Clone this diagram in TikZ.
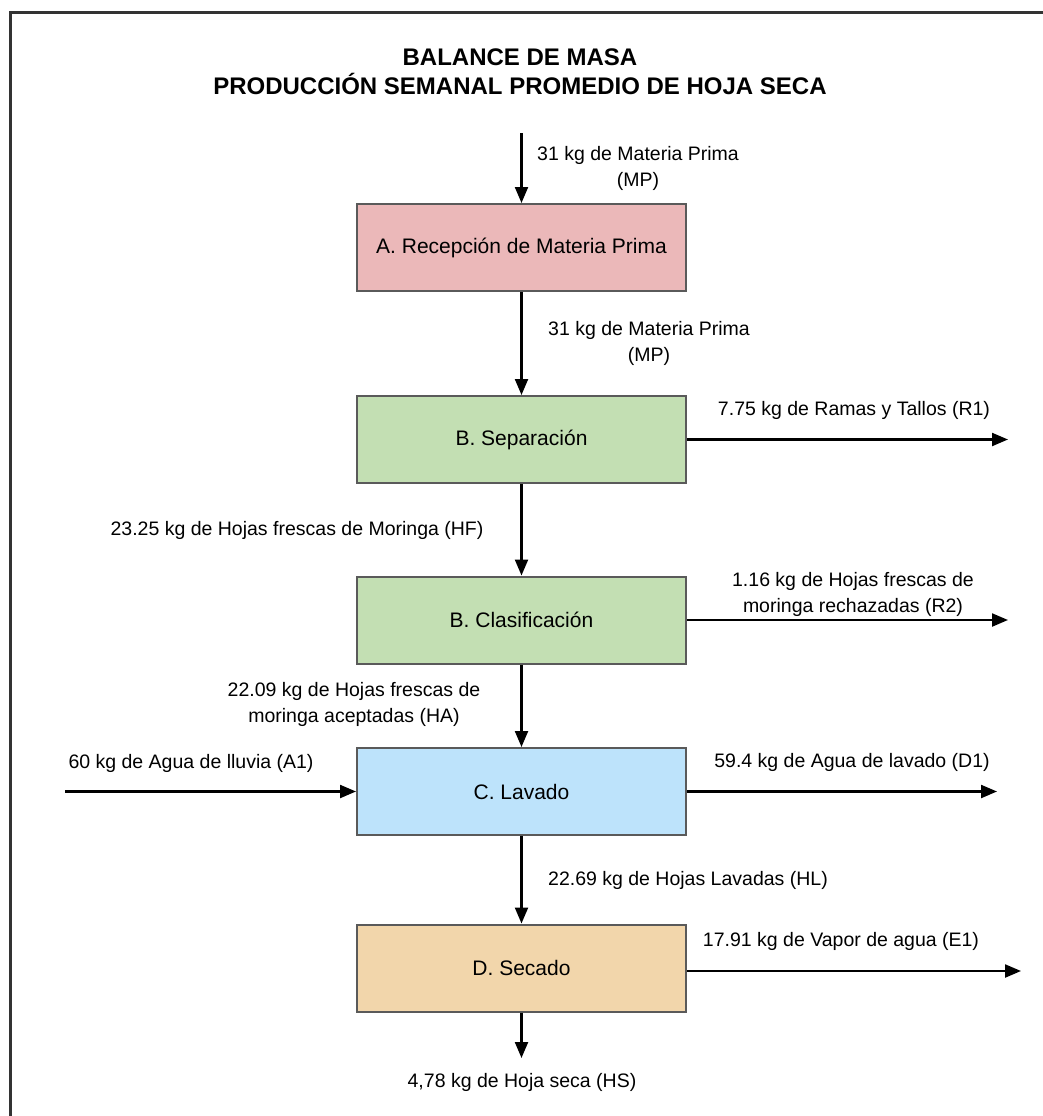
\documentclass[tikz,border=0pt]{standalone}
\usepackage{fontspec}
\setmainfont{Liberation Sans}
\usetikzlibrary{arrows.meta}
\definecolor{cA}{HTML}{EBB8B9}
\definecolor{cB}{HTML}{C3DFB3}
\definecolor{cC}{HTML}{BDE3FB}
\definecolor{cD}{HTML}{F2D6AB}
\definecolor{edge}{HTML}{5A5A5A}
\tikzset{
  procbox/.style={draw=edge, line width=2pt, minimum width=329pt, minimum height=87pt, inner sep=0pt,
    font=\fontsize{21}{25}\selectfont},
  flow/.style={line width=2.2pt, -{Triangle[length=16pt,width=13pt]}},
  lbl/.style={font=\fontsize{19.5}{26}\selectfont, align=center, inner sep=0pt},
}
\begin{document}
\begin{tikzpicture}[x=1pt,y=-1pt]
\useasboundingbox (0,0) rectangle (1043,1116);
\fill[white] (0,0) rectangle (1043,1116);
\draw[line width=3pt, color=black!80] (10,1120) -- (10,13) -- (1046,13);

\node[font=\bfseries\fontsize{24}{29}\selectfont, align=center] (title) at (520,72)
  {BALANCE DE MASA\\PRODUCCIÓN SEMANAL PROMEDIO DE HOJA SECA};

\node[procbox, fill=cA] (A) at (521.5,247.5) {A. Recepción de Materia Prima};
\node[procbox, fill=cB] (B1) at (521.5,439.5) {B. Separación};
\node[procbox, fill=cB] (B2) at (521.5,620) {B. Clasificación};
\node[procbox, fill=cC] (C) at (521.5,791.5) {C. Lavado};
\node[procbox, fill=cD] (D) at (521.5,968) {D. Secado};

\coordinate (in) at (521.5,133);
\coordinate (r1) at (1008,439.5);
\coordinate (r2) at (1008,620);
\coordinate (a1) at (65,791.5);
\coordinate (d1) at (997,791.5);
\coordinate (e1) at (1021,971);
\coordinate (hs) at (521.5,1058);

\draw[flow] (in) -- (A.north);
\draw[flow] (A.south) -- (B1.north);
\draw[flow] (B1.east) -- (r1);
\draw[flow] (B1.south) -- (B2.north);
\draw[flow] (B2.east) -- (r2);
\draw[flow] (B2.south) -- (C.north);
\draw[flow] (a1) -- (C.west);
\draw[flow] (C.east) -- (d1);
\draw[flow] (C.south) -- (D.north);
\draw[flow] (D.east |- e1) -- (e1);
\draw[flow] (D.south) -- (hs);

\node[lbl] (lmp1) at (638,168) {31 kg de Materia Prima\\(MP)};
\node[lbl] (lmp2) at (649,343) {31 kg de Materia Prima\\(MP)};
\node[lbl] (lr1) at (854,410) {7.75 kg de Ramas y Tallos (R1)};
\node[lbl] (lhf) at (297,530) {23.25 kg de Hojas frescas de Moringa (HF)};
\node[lbl] (lr2) at (853,594) {1.16 kg de Hojas frescas de\\moringa rechazadas (R2)};
\node[lbl] (lha) at (354,704) {22.09 kg de Hojas frescas de\\moringa aceptadas (HA)};
\node[lbl] (la1) at (191,763) {60 kg de Agua de lluvia (A1)};
\node[lbl] (ld1) at (852,762) {59.4 kg de Agua de lavado (D1)};
\node[lbl] (lhl) at (688,880) {22.69 kg de Hojas Lavadas (HL)};
\node[lbl] (le1) at (841,941) {17.91 kg de Vapor de agua (E1)};
\node[lbl] (lhs) at (522,1082) {4,78 kg de Hoja seca (HS)};
\end{tikzpicture}
\end{document}
